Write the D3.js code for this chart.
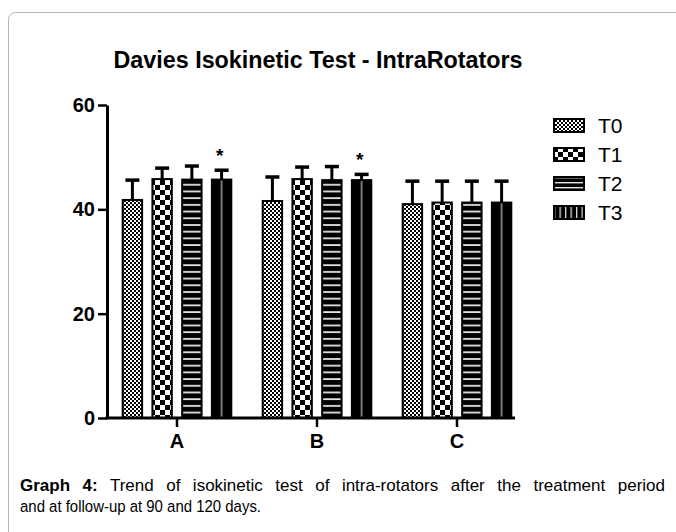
<!DOCTYPE html>
<html>
<head>
<meta charset="utf-8">
<script src="https://cdn.jsdelivr.net/npm/d3@7"></script>
<style>
  body { margin: 0; background: #fff; }
  text { font-family: "Liberation Sans", Arial, sans-serif; }
</style>
</head>
<body>
<script>
// Data
const groups = ["A", "B", "C"];
const series = ["T0", "T1", "T2", "T3"];
const t0 = [41.8, 41.6, 41.0];
const t1 = [45.8, 45.8, 41.3];
const t2 = [45.7, 45.6, 41.3];
const t3 = [45.7, 45.6, 41.3];
const t0Err = [3.8, 4.6, 4.4];
const t1Err = [2.1, 2.3, 4.1];
const t2Err = [2.6, 2.6, 4.1];
const t3Err = [1.8, 1.1, 4.1];
const starGroups = ["A", "B"];   // significance marks over T3
const yTicks = [0, 20, 40, 60];

const means = [t0, t1, t2, t3];
const errs = [t0Err, t1Err, t2Err, t3Err];

const W = 676, H = 532;

const svg = d3.select("body").append("svg")
  .attr("width", W)
  .attr("height", H);

// patterns for the bar fills
const defs = svg.append("defs");

let p = defs.append("pattern").attr("id", "p0")
  .attr("patternUnits", "userSpaceOnUse").attr("width", 4).attr("height", 4);
p.append("rect").attr("width", 4).attr("height", 4).attr("fill", "#fff");
p.append("rect").attr("width", 2).attr("height", 2).attr("fill", "#000");
p.append("rect").attr("x", 2).attr("y", 2).attr("width", 2).attr("height", 2).attr("fill", "#000");

p = defs.append("pattern").attr("id", "p1")
  .attr("patternUnits", "userSpaceOnUse").attr("width", 10).attr("height", 10);
p.append("rect").attr("width", 10).attr("height", 10).attr("fill", "#fff");
p.append("rect").attr("width", 5).attr("height", 5).attr("fill", "#000");
p.append("rect").attr("x", 5).attr("y", 5).attr("width", 5).attr("height", 5).attr("fill", "#000");

p = defs.append("pattern").attr("id", "p2")
  .attr("patternUnits", "userSpaceOnUse").attr("width", 4).attr("height", 6.7);
p.append("rect").attr("width", 4).attr("height", 6.7).attr("fill", "#000");
p.append("rect").attr("y", 3).attr("width", 4).attr("height", 1.8).attr("fill", "#e4e4e4");

p = defs.append("pattern").attr("id", "p3")
  .attr("patternUnits", "objectBoundingBox").attr("patternContentUnits", "objectBoundingBox")
  .attr("width", 1).attr("height", 1);
p.append("rect").attr("width", 1).attr("height", 1).attr("fill", "#000");
p.append("rect").attr("x", 0.47).attr("width", 0.06).attr("height", 1).attr("fill", "#cfcfcf");

// legend variants
p = defs.append("pattern").attr("id", "l2")
  .attr("patternUnits", "userSpaceOnUse").attr("width", 4).attr("height", 5)
  .attr("y", 1);
p.append("rect").attr("width", 4).attr("height", 5).attr("fill", "#000");
p.append("rect").attr("y", 0).attr("width", 4).attr("height", 1.4).attr("fill", "#e4e4e4");

p = defs.append("pattern").attr("id", "l3")
  .attr("patternUnits", "userSpaceOnUse").attr("width", 5.5).attr("height", 4)
  .attr("x", 1);
p.append("rect").attr("width", 5.5).attr("height", 4).attr("fill", "#000");
p.append("rect").attr("x", 0).attr("width", 1.3).attr("height", 4).attr("fill", "#d8d8d8");

const barFill = ["url(#p0)", "url(#p1)", "url(#p2)", "url(#p3)"];
const legendFill = ["url(#p0)", "url(#p1)", "url(#l2)", "url(#l3)"];

// frame
svg.append("rect")
  .attr("x", 8.5).attr("y", 12.5)
  .attr("width", 720).attr("height", 560)
  .attr("rx", 7)
  .attr("fill", "none")
  .attr("stroke", "#b4b4b4")
  .attr("stroke-width", 1);

// scales
const y = d3.scaleLinear().domain([0, 60]).range([418, 105]);

const x0 = d3.scaleBand().domain(groups)
  .range([107, 527])
  .paddingInner(0.21)
  .paddingOuter(0.105);

const x1 = d3.scaleBand().domain(series)
  .range([0, x0.bandwidth()])
  .paddingInner(0.28);

// title
svg.append("text")
  .attr("x", 318).attr("y", 68)
  .attr("text-anchor", "middle")
  .attr("font-size", 23)
  .attr("font-weight", "bold")
  .attr("textLength", 409)
  .attr("lengthAdjust", "spacingAndGlyphs")
  .text("Davies Isokinetic Test - IntraRotators");

// bars
const rows = [];
groups.forEach((g, gi) => {
  series.forEach((s, si) => {
    rows.push({g: g, s: s, si: si, v: means[si][gi], e: errs[si][gi]});
  });
});

const bars = svg.append("g");

// error bars (upper only)
bars.selectAll("line.stem").data(rows).join("line")
  .attr("class", "stem")
  .attr("x1", d => x0(d.g) + x1(d.s) + x1.bandwidth() / 2)
  .attr("x2", d => x0(d.g) + x1(d.s) + x1.bandwidth() / 2)
  .attr("y1", d => y(d.v))
  .attr("y2", d => y(d.v + d.e))
  .attr("stroke", "#000")
  .attr("stroke-width", 3);

bars.selectAll("line.cap").data(rows).join("line")
  .attr("class", "cap")
  .attr("x1", d => x0(d.g) + x1(d.s) + x1.bandwidth() / 2 - 7)
  .attr("x2", d => x0(d.g) + x1(d.s) + x1.bandwidth() / 2 + 7)
  .attr("y1", d => y(d.v + d.e))
  .attr("y2", d => y(d.v + d.e))
  .attr("stroke", "#000")
  .attr("stroke-width", 3.5);

bars.selectAll("rect.bar").data(rows).join("rect")
  .attr("class", "bar")
  .attr("x", d => x0(d.g) + x1(d.s) + 1)
  .attr("width", x1.bandwidth() - 2)
  .attr("y", d => y(d.v))
  .attr("height", d => y(0) - y(d.v))
  .attr("fill", d => barFill[d.si])
  .attr("stroke", "#000")
  .attr("stroke-width", 2);

// asterisks over T3
svg.selectAll("text.star").data(starGroups).join("text")
  .attr("class", "star")
  .attr("x", g => x0(g) + x1("T3") + x1.bandwidth() / 2 - 2)
  .attr("y", g => { const i = groups.indexOf(g); return y(t3[i] + t3Err[i]) - 8; })
  .attr("text-anchor", "middle")
  .attr("font-size", 19)
  .attr("font-weight", "bold")
  .text("*");

// axes
const yAxis = svg.append("g")
  .attr("transform", "translate(107,0)")
  .call(d3.axisLeft(y).tickValues(yTicks).tickSize(9).tickSizeOuter(0).tickPadding(3));

const xAxis = svg.append("g")
  .attr("transform", "translate(0,418)")
  .call(d3.axisBottom(x0).tickSize(9).tickSizeOuter(0).tickPadding(7));

xAxis.select(".domain").attr("d", "M105.5,0H515");

[xAxis, yAxis].forEach(a => {
  a.select(".domain").attr("stroke", "#000").attr("stroke-width", 3);
  a.selectAll(".tick line").attr("stroke", "#000").attr("stroke-width", 2.5);
  a.selectAll(".tick text")
    .attr("fill", "#000")
    .attr("font-size", 20)
    .attr("font-weight", "bold")
    .attr("font-family", "'Liberation Sans', Arial, sans-serif");
});

// legend
const legend = svg.append("g").attr("transform", "translate(553,118)");
const li = legend.selectAll("g").data(series).join("g")
  .attr("transform", (d, i) => `translate(0,${i * 29})`);
li.append("rect")
  .attr("x", 1).attr("y", 1)
  .attr("width", 30).attr("height", 13)
  .attr("fill", (d, i) => legendFill[i])
  .attr("stroke", "#000")
  .attr("stroke-width", 2);
li.append("text")
  .attr("x", 45).attr("y", 15)
  .attr("font-size", 21)
  .text(d => d);

// caption: first line justified to the frame width
const cap = svg.append("text")
  .attr("x", 20).attr("y", 491)
  .attr("font-size", 17);
cap.append("tspan").attr("font-weight", "bold").text("Graph 4:");
cap.append("tspan").text(" Trend of isokinetic test of intra-rotators after the treatment period");

// measure how much one unit of word-spacing adds, then solve
const target = 645;
const w0 = cap.node().getBBox().width;
cap.attr("word-spacing", 1);
const w1 = cap.node().getBBox().width;
const perUnit = Math.max(w1 - w0, 1);
cap.attr("word-spacing", Math.max(0, (target - w0) / perUnit));

svg.append("g").attr("transform", "translate(20,0) scale(0.88,1)")
  .append("text")
  .attr("x", 0).attr("y", 512)
  .attr("font-size", 17)
  .text("and at follow-up at 90 and 120 days.");
</script>
</body>
</html>
